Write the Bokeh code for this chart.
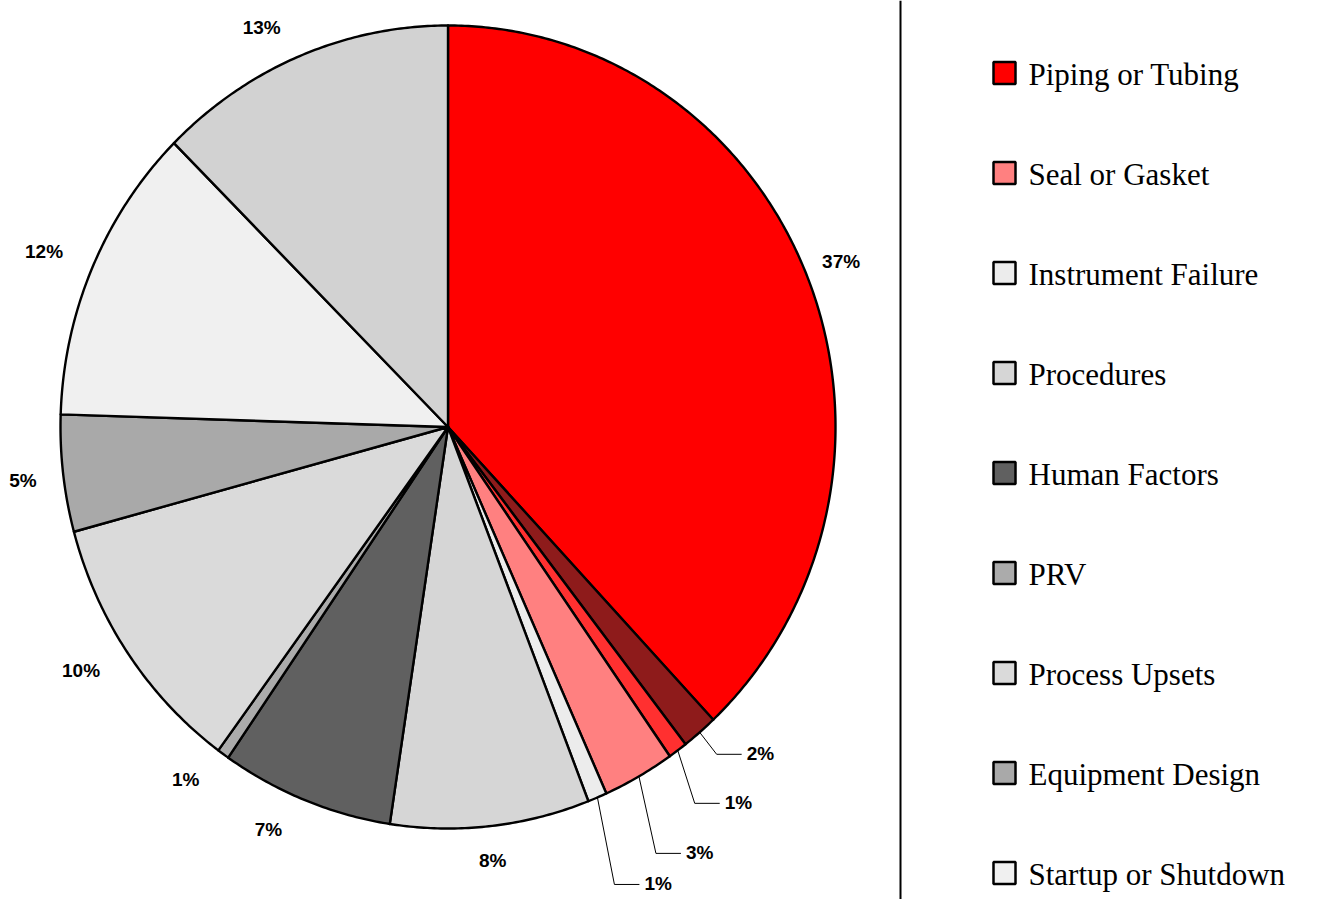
import math
from bokeh.plotting import figure
from bokeh.models import Range1d, Span
from bokeh.core.properties import value
from bokeh.embed import file_html
from bokeh.resources import INLINE

# ---------------- data (slices clockwise from 12 o'clock) ----------------
slice_values = [38.0, 1.5, 0.8, 3.0, 0.8, 8.3, 7.2, 0.5, 10.7, 4.7, 12.0, 12.5]
slice_labels = ["37%", "2%", "1%", "3%", "1%", "8%", "7%", "1%", "10%", "5%", "12%", "13%"]
slice_colors = ["#FF0000", "#8E1B1B", "#FF3030", "#FF8080", "#ECECEC", "#D6D6D6",
                "#606060", "#ABABAB", "#DADADA", "#A9A9A9", "#F0F0F0", "#D2D2D2"]
legend_names = ["Piping or Tubing", "Seal or Gasket", "Instrument Failure", "Procedures",
                "Human Factors", "PRV", "Process Upsets", "Equipment Design",
                "Startup or Shutdown"]
legend_slice = [0, 3, 4, 5, 6, 7, 8, 9, 10]
leader_slices = [1, 2, 3, 4]

# ---------------- layout ----------------
CX, CY, RX, RY = 447.5, 426.5, 387.5, 401.5
LABEL_R = [1.095, 1.0, 1.0, 1.0, 1.0, 1.085, 1.105, 1.108, 1.125, 1.105, 1.13, 1.105]
LABEL_DA = [-0.5, 0, 0, 0, 0, 0.2, 3.2, 2.2, 1.7, -0.3, -0.7, -3.3]
LEADER_DROP = [22, 53, 77, 87]
LEADER_DX = 17
LEADER_RUN = 25

p = figure(width=1316, height=899, output_backend="svg", toolbar_location=None,
           x_range=Range1d(0, 1316), y_range=Range1d(899, 0),
           x_axis_type=None, y_axis_type=None, min_border=0,
           background_fill_color="white", border_fill_color="white")
p.outline_line_color = None
p.grid.visible = False


def pt(angle_deg, r=1.0):
    a = math.radians(angle_deg)
    return CX + r * RX * math.sin(a), CY - r * RY * math.cos(a)


total = sum(slice_values)
xs, ys, mids = [], [], []
start = 0.0
for v in slice_values:
    end = start + 360.0 * v / total
    n = max(4, int((end - start) * 2))
    px, py = [CX], [CY]
    for k in range(n + 1):
        x, y = pt(start + (end - start) * k / n)
        px.append(x)
        py.append(y)
    xs.append(px)
    ys.append(py)
    mids.append((start + end) / 2)
    start = end

p.patches(xs, ys, fill_color=slice_colors, line_color="black", line_width=2.4,
          line_join="round")

label_font = value("Liberation Sans")
# plain labels
tx, ty, tt = [], [], []
for i, lab in enumerate(slice_labels):
    if i in leader_slices:
        continue
    x, y = pt(mids[i] + LABEL_DA[i], LABEL_R[i])
    tx.append(x); ty.append(y); tt.append(lab)
p.text(tx, ty, text=tt, text_font=label_font, text_font_style="bold",
       text_font_size="19px", text_align="center", text_baseline="middle",
       text_color="black")

# leader-line labels
lx, ly, lxs, lys, lt = [], [], [], [], []
for j, i in enumerate(leader_slices):
    x0, y0 = pt(mids[i], 1.0)
    x1, y1 = x0 + LEADER_DX, y0 + LEADER_DROP[j]
    x2 = x1 + LEADER_RUN
    lxs.append([x0, x1, x2]); lys.append([y0, y1, y1])
    lx.append(x2 + 5); ly.append(y1 - 1); lt.append(slice_labels[i])
p.multi_line(lxs, lys, line_color="black", line_width=1)
p.text(lx, ly, text=lt, text_font=label_font, text_font_style="bold",
       text_font_size="19px", text_align="left", text_baseline="middle",
       text_color="black")

# legend
p.add_layout(Span(location=900, dimension="height", line_color="black", line_width=2))
LEG_X, LEG_Y0, LEG_DY = 1004, 72.5, 100
gx = [LEG_X] * len(legend_names)
gy = [LEG_Y0 + k * LEG_DY for k in range(len(legend_names))]
p.rect(gx, gy, width=22, height=22, width_units="screen", height_units="screen",
       fill_color=[slice_colors[i] for i in legend_slice], line_color="black",
       line_width=2.5)
p.text([LEG_X + 24] * len(legend_names), [y + 1 for y in gy], text=legend_names,
       text_font=value("Liberation Serif"), text_font_size="31px",
       text_align="left", text_baseline="middle", text_color="black")

open("out.html", "w").write(file_html(p, INLINE))
